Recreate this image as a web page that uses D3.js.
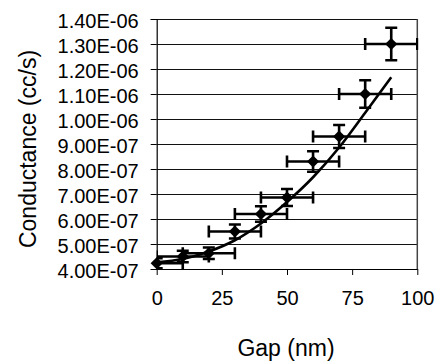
<!DOCTYPE html>
<html>
<head>
<meta charset="utf-8">
<script src="https://cdn.jsdelivr.net/npm/d3@7"></script>
<style>
  html, body { margin: 0; padding: 0; background: #fff; }
  svg { display: block; font-family: "Liberation Sans", Arial, sans-serif; }
</style>
</head>
<body>
<svg id="chart" width="439" height="364"></svg>
<script>
// ---- data ----
const gap = [0, 10, 20, 30, 40, 50, 60, 70, 80, 90];
const conductance = [4.23e-7, 4.50e-7, 4.63e-7, 5.50e-7, 6.20e-7, 6.86e-7, 8.30e-7, 9.30e-7, 1.10e-6, 1.30e-6];
const gapErr = [10, 10, 10, 10, 10, 10, 10, 10, 10, 10];
const condErr = [2.0e-8, 2.3e-8, 2.3e-8, 2.8e-8, 3.1e-8, 3.4e-8, 4.1e-8, 4.6e-8, 5.5e-8, 6.5e-8];
const trendGap = [0, 10, 20, 30, 40, 50, 60, 70, 80, 90];
const trendCond = [4.27e-7, 4.40e-7, 4.70e-7, 5.15e-7, 5.82e-7, 6.68e-7, 7.67e-7, 8.86e-7, 1.025e-6, 1.167e-6];
const xTicks = [0, 25, 50, 75, 100];
const yTicks = [4e-7, 5e-7, 6e-7, 7e-7, 8e-7, 9e-7, 1.0e-6, 1.1e-6, 1.2e-6, 1.3e-6, 1.4e-6];
const yTickLabels = ["4.00E-07","5.00E-07","6.00E-07","7.00E-07","8.00E-07","9.00E-07","1.00E-06","1.10E-06","1.20E-06","1.30E-06","1.40E-06"];
const xTitle = "Gap (nm)";
const yTitle = "Conductance (cc/s)";

// ---- layout ----
const svg = d3.select("#chart");
const L = 156.7, R = 417.3, T = 19, B = 269;
const x = d3.scaleLinear().domain([0, 100]).range([L, R]);
const y = d3.scaleLinear().domain([4e-7, 1.4e-6]).range([B, T]);

svg.append("defs").append("clipPath").attr("id", "plotclip")
  .append("rect").attr("x", L).attr("y", T - 10).attr("width", R - L + 1).attr("height", B - T + 20);

// gridlines
svg.append("g").selectAll("line").data(yTicks.slice(1)).join("line")
  .attr("x1", L).attr("x2", R)
  .attr("y1", d => Math.round(y(d)) + 0.5).attr("y2", d => Math.round(y(d)) + 0.5)
  .attr("stroke", "#111").attr("stroke-width", 1);

// right border
svg.append("line").attr("x1", R).attr("x2", R).attr("y1", T).attr("y2", B)
  .attr("stroke", "#444").attr("stroke-width", 1.5);

// y axis
const yAxis = d3.axisLeft(y).tickValues(yTicks)
  .tickFormat((d, i) => yTickLabels[i]).tickSize(6).tickPadding(12);
const gy = svg.append("g").attr("transform", `translate(${L},0)`).call(yAxis);
gy.select(".domain").attr("stroke", "#000").attr("stroke-width", 1.2);
gy.selectAll(".tick line").attr("stroke", "#000");
gy.selectAll("text").attr("font-size", 20).attr("fill", "#000").attr("dy", "0.4em")
  .attr("font-family", "Liberation Sans, Arial, sans-serif");

// x axis
const xAxis = d3.axisBottom(x).tickValues(xTicks).tickSize(6).tickPadding(16).tickSizeOuter(0);
const gx = svg.append("g").attr("transform", `translate(0,${B})`).call(xAxis);
gx.select(".domain").attr("stroke", "#000").attr("stroke-width", 1.2);
gx.selectAll(".tick line").attr("stroke", "#000");
gx.selectAll("text").attr("font-size", 20).attr("fill", "#000")
  .attr("font-family", "Liberation Sans, Arial, sans-serif");

// trendline
const line = d3.line().x((d, i) => x(trendGap[i])).y(d => y(d)).curve(d3.curveMonotoneX);
svg.append("path").datum(trendCond).attr("d", line)
  .attr("fill", "none").attr("stroke", "#000").attr("stroke-width", 2.6);

// error bars
const pts = gap.map((g, i) => ({ g, c: conductance[i], ex: gapErr[i], ey: condErr[i] }));
const eb = svg.append("g").attr("clip-path", "url(#plotclip)")
  .attr("stroke", "#000").attr("stroke-width", 2.6).attr("fill", "none");
const cap = 6;
pts.forEach(p => {
  const cx = x(p.g), cy = y(p.c);
  const x0 = x(p.g - p.ex), x1 = x(p.g + p.ex);
  const y0 = y(p.c - p.ey), y1 = y(p.c + p.ey);
  eb.append("line").attr("x1", x0).attr("x2", x1).attr("y1", cy).attr("y2", cy);
  eb.append("line").attr("x1", x0).attr("x2", x0).attr("y1", cy - cap).attr("y2", cy + cap);
  eb.append("line").attr("x1", x1).attr("x2", x1).attr("y1", cy - cap).attr("y2", cy + cap);
  eb.append("line").attr("x1", cx).attr("x2", cx).attr("y1", y0).attr("y2", y1);
  eb.append("line").attr("x1", cx - cap).attr("x2", cx + cap).attr("y1", y0).attr("y2", y0);
  eb.append("line").attr("x1", cx - cap).attr("x2", cx + cap).attr("y1", y1).attr("y2", y1);
});

// diamond markers
const diamond = d3.symbol().type(d3.symbolDiamond2).size(95);
svg.append("g").selectAll("path").data(pts).join("path")
  .attr("d", diamond)
  .attr("transform", d => `translate(${x(d.g)},${y(d.c)})`)
  .attr("fill", "#000");

// axis titles
svg.append("text").attr("x", (L + R) / 2 - 1).attr("y", 356)
  .attr("text-anchor", "middle").attr("font-size", 23).attr("fill", "#000").text(xTitle);
svg.append("text").attr("transform", `translate(36,149) rotate(-90)`)
  .attr("text-anchor", "middle").attr("font-size", 23).attr("fill", "#000").text(yTitle);
</script>
</body>
</html>
